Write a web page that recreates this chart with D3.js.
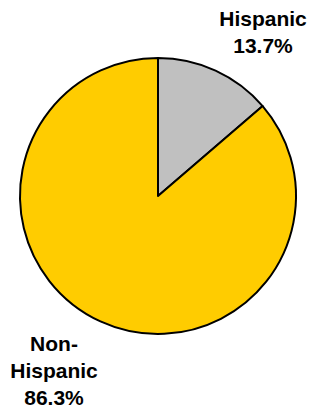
<!DOCTYPE html>
<html>
<head>
<meta charset="utf-8">
<script src="https://cdn.jsdelivr.net/npm/d3@7"></script>
<style>
  body { margin: 0; background: #fff; }
  text { font-family: "Liberation Sans", Arial, sans-serif; font-weight: bold; fill: #000; }
</style>
</head>
<body>
<div id="chart"></div>
<script>
// data
var categories = ["Hispanic", "Non-Hispanic"];
var shares = [13.7, 86.3];
var colors = ["#C0C0C0", "#FFCC00"];
var labelLines = [["Hispanic", "13.7%"], ["Non-", "Hispanic", "86.3%"]];

var width = 312, height = 413;
var cx = 158, cy = 196, radius = 138;

var svg = d3.select("#chart")
  .append("svg")
  .attr("width", width)
  .attr("height", height);

var pie = d3.pie().sort(null).value(function(d){ return d; });
var arc = d3.arc().innerRadius(0).outerRadius(radius);

var g = svg.append("g").attr("transform", "translate(" + cx + "," + cy + ")");

g.selectAll("path")
  .data(pie(shares))
  .enter().append("path")
  .attr("d", arc)
  .attr("fill", function(d, i){ return colors[i]; })
  .attr("stroke", "#000")
  .attr("stroke-width", 2)
  .attr("stroke-linejoin", "round");

// label positions
var labelPos = [[263, 26], [54, 351]];

var labels = svg.selectAll("text.lbl")
  .data(labelLines)
  .enter().append("text")
  .attr("class", "lbl")
  .attr("text-anchor", "middle")
  .attr("font-size", 21);

labels.each(function(lines, i){
  d3.select(this).selectAll("tspan")
    .data(lines)
    .enter().append("tspan")
    .attr("x", labelPos[i][0])
    .attr("y", function(d, j){ return labelPos[i][1] + j * 27; })
    .text(function(d){ return d; });
});
</script>
</body>
</html>
